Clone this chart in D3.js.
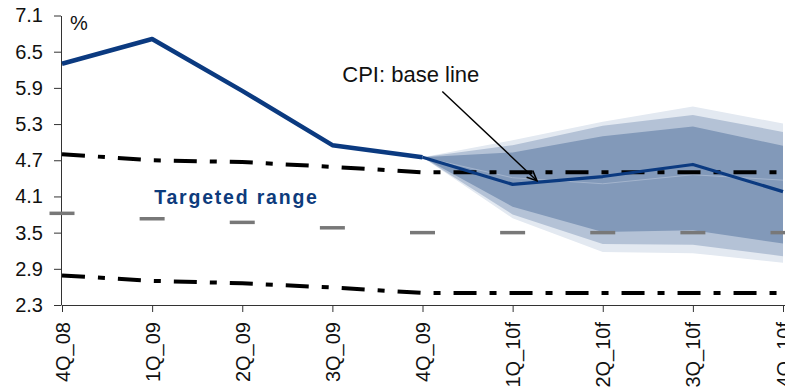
<!DOCTYPE html>
<html>
<head>
<meta charset="utf-8">
<script src="https://cdn.jsdelivr.net/npm/d3@7"></script>
<style>
  html, body { margin: 0; padding: 0; background: #fff; overflow: hidden; }
  svg { display: block; font-family: "Liberation Sans", Arial, sans-serif; }
</style>
</head>
<body>
<svg id="chart" width="785" height="392"></svg>
<script>
// Quarters on the x axis (f = forecast)
const categories = ["4Q_08", "1Q_09", "2Q_09", "3Q_09", "4Q_09", "1Q_10f", "2Q_10f", "3Q_10f", "4Q_10f"];

// CPI, % year on year: actual through 4Q_09, base line afterwards
const cpi = [6.30, 6.71, 5.85, 4.95, 4.75, 4.30, 4.43, 4.63, 4.18];
const forecastStart = 4; // index of 4Q_09, where the fan opens

// Inflation target: upper bound, mid point, lower bound
const targetUpper = [4.80, 4.70, 4.67, 4.59, 4.50, 4.50, 4.50, 4.50, 4.50];
const targetMid   = [3.82, 3.73, 3.67, 3.58, 3.50, 3.50, 3.50, 3.50, 3.50];
const targetLower = [2.79, 2.70, 2.66, 2.59, 2.50, 2.50, 2.50, 2.50, 2.50];

// Fan chart bands for 4Q_09 .. 4Q_10f (outer, middle, inner)
const fanOuterHigh = [4.75, 5.03, 5.34, 5.59, 5.31];
const fanMidHigh   = [4.75, 4.95, 5.27, 5.45, 5.17];
const fanInnerHigh = [4.75, 4.83, 5.10, 5.26, 4.94];
const fanInnerLow  = [4.75, 3.93, 3.51, 3.54, 3.32];
const fanMidLow    = [4.75, 3.80, 3.31, 3.30, 3.11];
const fanOuterLow  = [4.75, 3.74, 3.18, 3.16, 3.00];
const fanCentre    = [4.75, 4.41, 4.31, 4.46, 4.37];

// Y axis ticks
const yTicks = [2.3, 2.9, 3.5, 4.1, 4.7, 5.3, 5.9, 6.5, 7.1];

const svg = d3.select("#chart");

const x = d3.scalePoint().domain(categories).range([62, 783]);
const y = d3.scaleLinear().domain([2.3, 7.1]).range([305, 15.5]);

const fanCats = categories.slice(forecastStart);

// ---- fan chart ----
function band(hi, lo, fill) {
  const area = d3.area()
    .x((d, i) => x(fanCats[i]))
    .y0((d, i) => y(lo[i]))
    .y1((d, i) => y(hi[i]));
  svg.append("path").datum(hi).attr("d", area).attr("fill", fill);
}
band(fanOuterHigh, fanOuterLow, "#e3e9f1");
band(fanMidHigh, fanMidLow, "#b4c2d6");
band(fanInnerHigh, fanInnerLow, "#8299b9");

svg.append("path")
  .datum(fanCentre)
  .attr("d", d3.line().x((d, i) => x(fanCats[i])).y(d => y(d)))
  .attr("fill", "none")
  .attr("stroke", "#a3b4cd")
  .attr("stroke-width", 1);

// ---- axes ----
const yAxis = d3.axisLeft(y)
  .tickValues(yTicks)
  .tickFormat(d3.format(".1f"))
  .tickSize(7)
  .tickSizeOuter(0)
  .tickPadding(11);

const gy = svg.append("g").attr("transform", "translate(61,0)").call(yAxis);
gy.select(".domain").attr("stroke", "#333");
gy.selectAll(".tick line").attr("stroke", "#333");
gy.selectAll(".tick text")
  .attr("font-size", 20)
  .attr("font-family", "Liberation Sans, Arial, sans-serif")
  .attr("fill", "#111");

const xAxis = d3.axisBottom(x).tickSize(7).tickSizeOuter(0).tickPadding(0);
const gx = svg.append("g").attr("transform", "translate(0,305)").call(xAxis);
gx.select(".domain").attr("stroke", "#333").attr("d", "M62,0.5H785");
gx.selectAll(".tick line").attr("stroke", "#333");
gx.selectAll(".tick text")
  .attr("font-size", 20)
  .attr("font-family", "Liberation Sans, Arial, sans-serif")
  .attr("fill", "#111")
  .attr("y", 0)
  .attr("dy", "0.35em")
  .attr("text-anchor", "end")
  .attr("transform", "translate(0,17) rotate(-90)");

svg.append("text")
  .attr("x", 70).attr("y", 30)
  .attr("font-size", 20)
  .attr("fill", "#111")
  .text("%");

// ---- target range ----
const valueLine = d3.line().x((d, i) => x(categories[i])).y(d => y(d));

[targetUpper, targetLower].forEach(series => {
  svg.append("path")
    .datum(series)
    .attr("d", valueLine)
    .attr("fill", "none")
    .attr("stroke", "#000")
    .attr("stroke-width", 4)
    .attr("stroke-dasharray", "23,13,7,13");
});

svg.append("g").selectAll("line")
  .data(targetMid)
  .join("line")
  .attr("x1", (d, i) => x(categories[i]) - 12.5)
  .attr("x2", (d, i) => x(categories[i]) + 12.5)
  .attr("y1", d => y(d))
  .attr("y2", d => y(d))
  .attr("stroke", "#787878")
  .attr("stroke-width", 3.5);

svg.append("text")
  .attr("x", x("1Q_09") + 2)
  .attr("y", y(3.97))
  .attr("font-size", 19.5)
  .attr("font-weight", "bold")
  .attr("letter-spacing", 1.8)
  .attr("fill", "#0d3b7c")
  .text("Targeted range");

// ---- CPI line ----
svg.append("path")
  .datum(cpi.slice(0, forecastStart + 1))
  .attr("d", valueLine)
  .attr("fill", "none")
  .attr("stroke", "#0b3a80")
  .attr("stroke-width", 4.5)
  .attr("stroke-linejoin", "round");

svg.append("path")
  .datum(cpi.slice(forecastStart))
  .attr("d", d3.line().x((d, i) => x(fanCats[i])).y(d => y(d)))
  .attr("fill", "none")
  .attr("stroke", "#0b3a80")
  .attr("stroke-width", 3.2)
  .attr("stroke-linejoin", "round");

// ---- annotation ----
const step = x.step();
const labelPos = { cat: "3Q_09", offset: 0.11, value: 6.0 };
const arrowFrom = { cat: "4Q_09", offset: 0.22, value: 5.84 };
const arrowTo   = { cat: "1Q_10f", offset: 0.27, value: 4.36 };

svg.append("text")
  .attr("x", x(labelPos.cat) + labelPos.offset * step)
  .attr("y", y(labelPos.value))
  .attr("font-size", 22)
  .attr("fill", "#111")
  .text("CPI: base line");

svg.append("defs").append("marker")
  .attr("id", "arrowhead")
  .attr("viewBox", "0 0 12 12")
  .attr("refX", 11).attr("refY", 6)
  .attr("markerWidth", 12).attr("markerHeight", 12)
  .attr("markerUnits", "userSpaceOnUse")
  .attr("orient", "auto")
  .append("path")
  .attr("d", "M1,1.5 L11,6 L1,10.5")
  .attr("fill", "none")
  .attr("stroke", "#000")
  .attr("stroke-width", 1.6);

svg.append("line")
  .attr("x1", x(arrowFrom.cat) + arrowFrom.offset * step)
  .attr("y1", y(arrowFrom.value))
  .attr("x2", x(arrowTo.cat) + arrowTo.offset * step)
  .attr("y2", y(arrowTo.value))
  .attr("stroke", "#000")
  .attr("stroke-width", 1.5)
  .attr("marker-end", "url(#arrowhead)");
</script>
</body>
</html>
